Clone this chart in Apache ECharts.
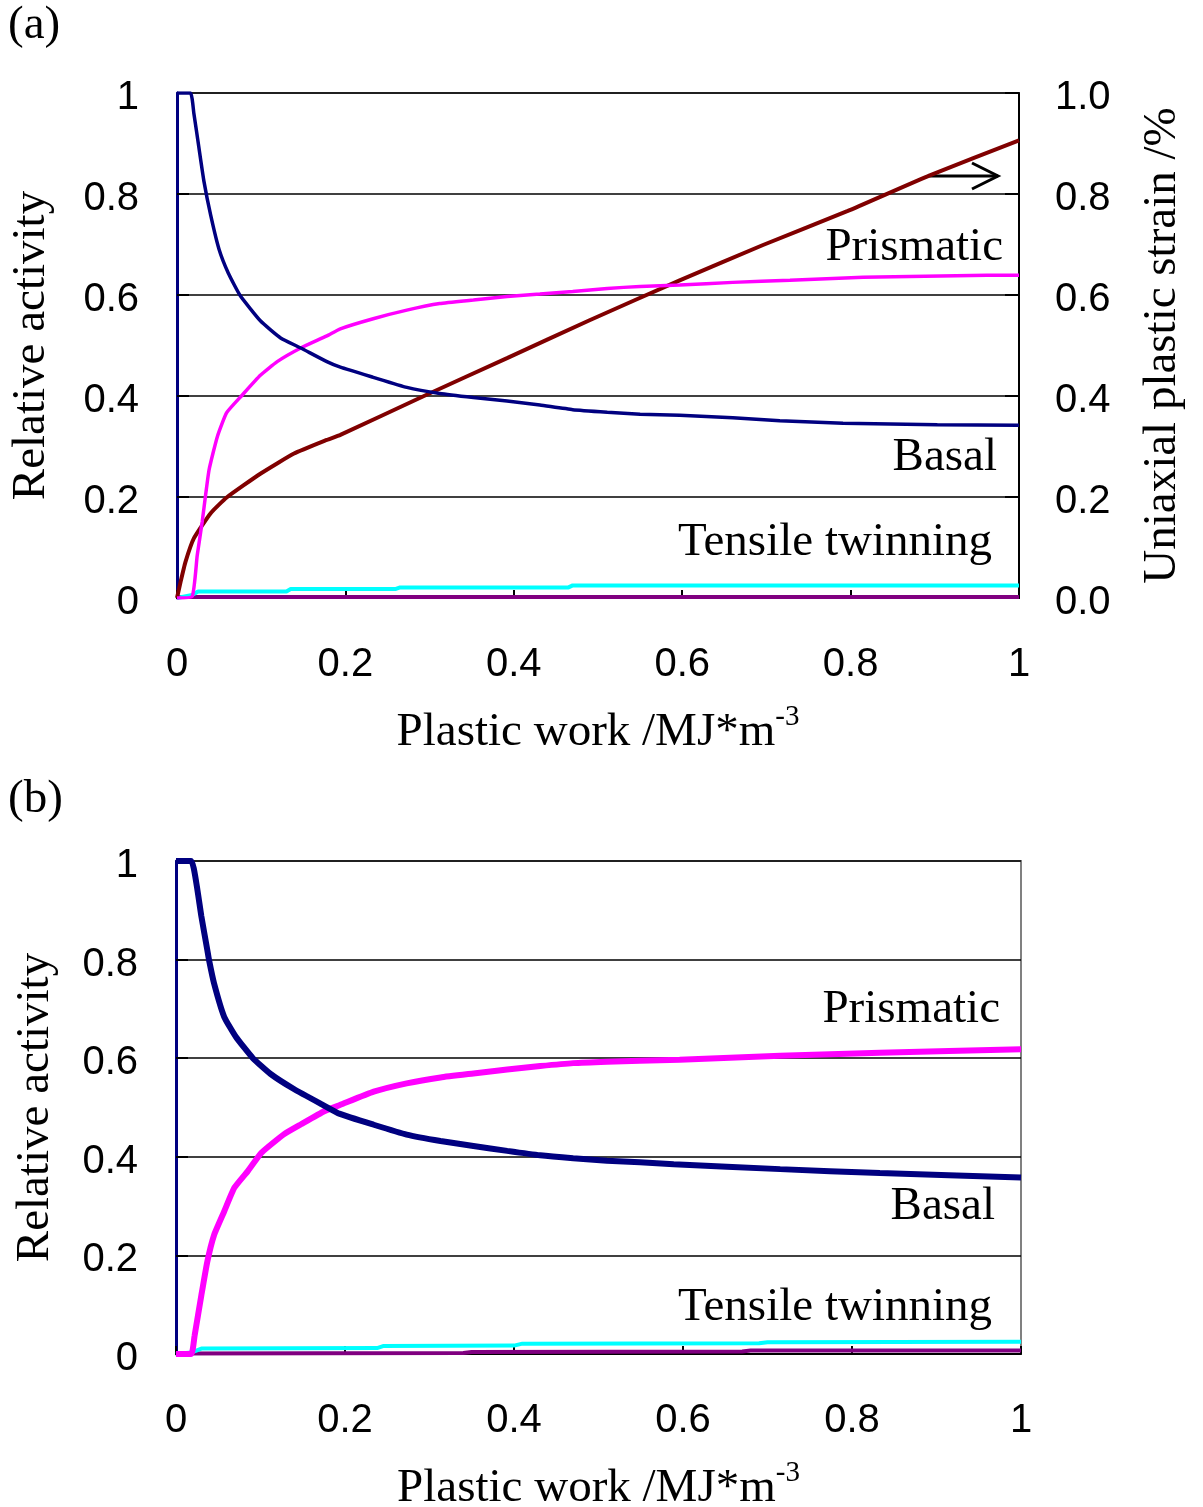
<!DOCTYPE html>
<html><head><meta charset="utf-8">
<script src="https://cdn.jsdelivr.net/npm/echarts@6/dist/echarts.min.js"></script>
<style>html,body{margin:0;padding:0;background:#fff}#c{width:1203px;height:1507px}</style>
</head><body><div id="c"></div>
<script>
// ---- Data (x = plastic work MJ/m^3, y = relative activity / strain %) ----
const xTicks = [0, 0.2, 0.4, 0.6, 0.8, 1];
const seriesNames = ['Basal', 'Prismatic', 'Tensile twinning', 'Other twinning', 'Uniaxial plastic strain'];

const aBasal = [[0,1],[0.016,1],[0.020,0.96],[0.026,0.892],[0.032,0.825],[0.040,0.758],[0.050,0.69],[0.061,0.643],[0.075,0.599],[0.099,0.549],[0.123,0.515],[0.147,0.495],[0.178,0.468],[0.194,0.457],[0.233,0.437],[0.273,0.417],[0.312,0.405],[0.352,0.397],[0.392,0.39],[0.431,0.382],[0.47,0.373],[0.511,0.368],[0.55,0.364],[0.597,0.362],[0.66,0.357],[0.716,0.351],[0.791,0.346],[0.903,0.343],[1.0,0.342]];
const aPrism = [[0,0],[0.018,0.003],[0.024,0.084],[0.030,0.152],[0.038,0.253],[0.048,0.32],[0.059,0.367],[0.077,0.401],[0.099,0.441],[0.119,0.468],[0.147,0.495],[0.178,0.519],[0.194,0.533],[0.233,0.553],[0.273,0.57],[0.312,0.583],[0.352,0.59],[0.392,0.597],[0.431,0.602],[0.47,0.607],[0.511,0.613],[0.55,0.617],[0.597,0.62],[0.66,0.625],[0.728,0.629],[0.815,0.635],[0.962,0.639],[1.0,0.639]];
const aTensile = [[0,0],[0.018,0.006],[0.025,0.013],[0.13,0.013],[0.135,0.018],[0.26,0.018],[0.265,0.021],[0.465,0.021],[0.47,0.025],[1.0,0.025]];
const aOther = [[0,0.002],[0.5,0.002],[1.0,0.002]];
const aStrain = [[0,0],[0.004,0.03],[0.01,0.071],[0.02,0.118],[0.04,0.168],[0.059,0.199],[0.099,0.246],[0.139,0.286],[0.178,0.313],[0.194,0.323],[0.292,0.399],[0.392,0.475],[0.49,0.55],[0.597,0.629],[0.696,0.699],[0.796,0.766],[0.894,0.837],[1.0,0.906]];

const bBasal = [[0,1],[0.018,1],[0.024,0.956],[0.030,0.888],[0.037,0.82],[0.039,0.80],[0.045,0.752],[0.057,0.684],[0.071,0.643],[0.091,0.60],[0.112,0.568],[0.14,0.537],[0.172,0.507],[0.194,0.487],[0.234,0.465],[0.273,0.445],[0.313,0.432],[0.352,0.422],[0.392,0.412],[0.431,0.403],[0.47,0.397],[0.51,0.392],[0.549,0.389],[0.589,0.385],[0.715,0.375],[0.833,0.367],[1.0,0.358]];
const bPrism = [[0,0],[0.018,0],[0.022,0.037],[0.030,0.119],[0.037,0.187],[0.045,0.241],[0.057,0.289],[0.069,0.337],[0.085,0.371],[0.101,0.408],[0.128,0.446],[0.148,0.466],[0.176,0.493],[0.194,0.505],[0.234,0.532],[0.273,0.549],[0.313,0.561],[0.352,0.569],[0.392,0.577],[0.431,0.584],[0.47,0.59],[0.51,0.593],[0.549,0.595],[0.596,0.597],[0.715,0.605],[0.833,0.611],[1.0,0.618]];
const bTensile = [[0,0],[0.018,0.003],[0.03,0.011],[0.238,0.012],[0.245,0.016],[0.40,0.017],[0.41,0.021],[0.69,0.022],[0.70,0.024],[1.0,0.025]];
const bOther = [[0,0.001],[0.34,0.002],[0.35,0.004],[0.67,0.005],[0.68,0.007],[1.0,0.007]];

// ---- Styling ----
const SERIF = '"Liberation Serif","Times New Roman",serif';
const SANS = '"Liberation Sans",Arial,sans-serif';
const C = {basal:'#000080', prism:'#FF00FF', tensile:'#00FFFF', other:'#800080', strain:'#800000'};

function xAx(gi){
  return {
    type:'value', gridIndex:gi, min:0, max:1, interval:0.2,
    axisLine:{show:true, onZero:false, lineStyle:{color:'#000', width:2}},
    axisTick:{show:true, inside:true, length:8, lineStyle:{color:'#000', width:2}},
    axisLabel:{color:'#000', fontFamily:SANS, fontSize:40, margin:47},
    splitLine:{show:false},
    name:'{n|Plastic work /MJ*m}{s|-3}', nameLocation:'middle', nameGap:105,
    nameTextStyle:{color:'#000', fontFamily:SERIF, fontSize:47,
      rich:{n:{fontFamily:SERIF, fontSize:47, color:'#000'}, s:{fontFamily:SERIF, fontSize:29, color:'#000', padding:[0,0,30,0]}}}
  };
}
function yAx(gi, gap){
  return {
    type:'value', gridIndex:gi, min:0, max:1, interval:0.2,
    axisLine:{show:true, onZero:false, lineStyle:{color:C.basal, width:3}},
    axisTick:{show:true, inside:true, length:12, lineStyle:{color:'#000', width:2}},
    axisLabel:{color:'#000', fontFamily:SANS, fontSize:40, margin:38, verticalAlign:'top', lineHeight:10},
    splitLine:{show:true, lineStyle:{color:'#000', width:1.5}},
    name:'Relative activity', nameLocation:'middle', nameGap:gap,
    nameTextStyle:{color:'#000', fontFamily:SERIF, fontSize:47}
  };
}
function ln(name, data, color, width, xi, yi, smooth){
  return {name, type:'line', data, xAxisIndex:xi, yAxisIndex:yi, showSymbol:false, symbol:'none',
    lineStyle:{color, width}, itemStyle:{color}, smooth:smooth||false, animation:false};
}
function txt(x, y, s, align){
  return {type:'text', x, y, style:{text:s, font:'47px '+SERIF, fill:'#000', textAlign:align||'right', textVerticalAlign:'middle'}};
}

const chart = echarts.init(document.getElementById('c'), null, {renderer:'canvas'});
chart.setOption({
  backgroundColor:'#fff',
  animation:false,
  grid:[
    {left:177, right:184, top:93, height:505, outerBoundsMode:'none', containLabel:false, show:true, borderColor:'#808080', borderWidth:2, backgroundColor:'transparent'},
    {left:176, right:182, top:861, height:493, outerBoundsMode:'none', containLabel:false, show:true, borderColor:'#808080', borderWidth:2, backgroundColor:'transparent'}
  ],
  xAxis:[xAx(0), xAx(1)],
  yAxis:[
    yAx(0, 122),
    {type:'value', gridIndex:0, min:0, max:1, interval:0.2, position:'right',
     axisLine:{show:true, onZero:false, lineStyle:{color:'#000', width:2}},
     axisTick:{show:true, inside:true, length:14, lineStyle:{color:'#000', width:2}},
     axisLabel:{color:'#000', fontFamily:SANS, fontSize:40, margin:36, verticalAlign:'top', lineHeight:10, formatter:v=>v.toFixed(1)},
     splitLine:{show:false},
     name:'Uniaxial plastic strain /%', nameLocation:'middle', nameGap:120,
     nameTextStyle:{color:'#000', fontFamily:SERIF, fontSize:47}},
    yAx(1, 117)
  ],
  series:[
    ln(seriesNames[3], aOther, C.other, 4, 0, 0),
    ln(seriesNames[2], aTensile, C.tensile, 4, 0, 0),
    ln(seriesNames[4], aStrain, C.strain, 4, 0, 1, 0.15),
    ln(seriesNames[1], aPrism, C.prism, 3.5, 0, 0, 0.15),
    ln(seriesNames[0], aBasal, C.basal, 3.5, 0, 0, 0.15),
    ln(seriesNames[3], bOther, C.other, 4, 1, 2),
    ln(seriesNames[2], bTensile, C.tensile, 4, 1, 2),
    ln(seriesNames[1], bPrism, C.prism, 6, 1, 2, 0.15),
    ln(seriesNames[0], bBasal, C.basal, 6, 1, 2, 0.15)
  ],
  graphic:[
    txt(8, 26, '(a)', 'left'),
    txt(8, 800, '(b)', 'left'),
    txt(1003, 248, 'Prismatic'),
    txt(997, 458, 'Basal'),
    txt(992, 543, 'Tensile twinning'),
    txt(1000, 1010, 'Prismatic'),
    txt(995, 1207, 'Basal'),
    txt(992, 1308, 'Tensile twinning'),
    {type:'polyline', shape:{points:[[928,176],[998,176]]}, style:{stroke:'#000', lineWidth:3}},
    {type:'polyline', shape:{points:[[972,163],[998,176],[972,189]]}, style:{stroke:'#000', lineWidth:3, fill:null}}
  ]
});
</script></body></html>
